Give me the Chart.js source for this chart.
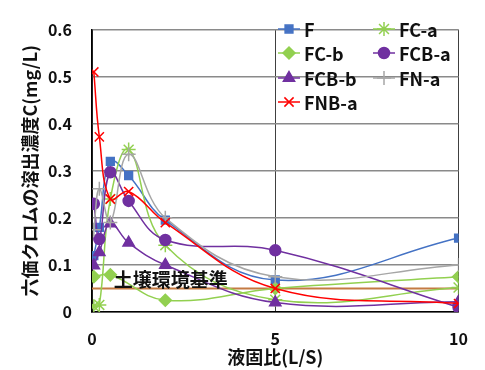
<!DOCTYPE html>
<html>
<head>
<meta charset="utf-8">
<script src="https://cdn.jsdelivr.net/npm/chart.js@4.4.1/dist/chart.umd.min.js"></script>
<style>
  html, body { margin: 0; padding: 0; background: #fff; }
</style>
</head>
<body>
<canvas id="chart" width="485" height="370"></canvas>
<script>
// liquid/solid ratio (x) and leached Cr(VI) concentration (y, mg/L)
const lsRatio = [0.05, 0.2, 0.5, 1, 2, 5, 10];

const valF    = [0.12, 0.18, 0.32, 0.29, 0.195, 0.068, 0.157];
const valFCa  = [0.012, 0.015, 0.24, 0.345, 0.142, 0.026, 0.052];
const valFCb  = [0.075, null, 0.079, null, 0.025, 0.05, 0.075];
const valFCBa = [0.23, 0.155, 0.297, 0.236, 0.153, 0.131, 0.01];
const valFCBb = [0.099, 0.127, 0.188, 0.147, 0.1, 0.02, 0.022];
const valFNa  = [0.175, 0.262, 0.19, 0.335, 0.2, 0.075, 0.1];
const valFNBa = [0.51, 0.372, 0.24, 0.256, 0.19, 0.05, 0.018];

const seriesNames = ["F", "FC-a", "FC-b", "FCB-a", "FCB-b", "FN-a", "FNB-a"];
const seriesValues = [valF, valFCa, valFCb, valFCBa, valFCBb, valFNa, valFNBa];

// soil environmental standard
const standardX = [0, 10];
const standardValue = 0.05;
const standardLabel = "土壌環境基準";

const yTicks = [0, 0.1, 0.2, 0.3, 0.4, 0.5, 0.6];
const xTicks = [0, 5, 10];

const FONT = "'Noto Sans CJK JP', 'Noto Sans', sans-serif";

const styles = [
  { color: "#4472C4", point: "rect",     r: 5.5 },
  { color: "#92D050", point: "star",     r: 7 },
  { color: "#92D050", point: "rectRot",  r: 6 },
  { color: "#7030A0", point: "circle",   r: 5.5 },
  { color: "#7030A0", point: "triangle", r: 6.5 },
  { color: "#A6A6A6", point: "cross",    r: 7 },
  { color: "#FF0000", point: "crossRot", r: 6.5 }
];

const datasets = seriesNames.map((name, i) => ({
  label: name,
  data: lsRatio.map((x, j) => ({ x: x, y: seriesValues[i][j] })),
  borderColor: styles[i].color,
  backgroundColor: styles[i].color,
  borderWidth: 1.5,
  pointStyle: styles[i].point,
  pointRadius: styles[i].r,
  pointBorderWidth: 1.5,
  pointBackgroundColor: styles[i].color,
  pointBorderColor: styles[i].color,
  tension: 0.4,
  spanGaps: true,
  order: seriesNames.length - i
}));

datasets.push({
  label: standardLabel,
  data: standardX.map(x => ({ x: x, y: standardValue })),
  borderColor: "#C47A43",
  borderWidth: 2,
  pointRadius: 0,
  order: 20
});

// legend in two columns inside the plot + label for the standard line
const overlay = {
  id: "overlay",
  afterDraw(chart) {
    const ctx = chart.ctx;
    const xs = chart.scales.x, ys = chart.scales.y;
    ctx.save();
    ctx.fillStyle = "#111";
    ctx.font = "bold 19px " + FONT;
    ctx.textAlign = "center";
    ctx.textBaseline = "middle";
    ctx.fillText(standardLabel, xs.getPixelForValue(2.15), ys.getPixelForValue(standardValue) - 9);

    const colX = [278, 373];
    const rowY = [29, 53, 78, 102];
    ctx.textAlign = "left";
    ctx.font = "bold 18px " + FONT;
    seriesNames.forEach((name, i) => {
      const x = colX[i % 2], y = rowY[Math.floor(i / 2)];
      const s = styles[i];
      ctx.strokeStyle = s.color;
      ctx.lineWidth = 1.5;
      ctx.beginPath();
      ctx.moveTo(x, y);
      ctx.lineTo(x + 22, y);
      ctx.stroke();
      ctx.fillStyle = s.color;
      Chart.helpers.drawPoint(ctx, { pointStyle: s.point, radius: s.r, borderWidth: 1.5 }, x + 11, y);
      ctx.fillStyle = "#111";
      ctx.fillText(name, x + 26, y + 1);
    });
    ctx.restore();
  }
};

new Chart(document.getElementById("chart"), {
  type: "line",
  data: { datasets: datasets },
  options: {
    responsive: false,
    animation: false,
    layout: { padding: { top: 15, right: 25, left: 0, bottom: 0 } },
    plugins: { legend: { display: false }, tooltip: { enabled: false } },
    scales: {
      x: {
        type: "linear",
        min: 0, max: 10,
        afterFit: s => { s.height = 58; },
        afterBuildTicks: s => { s.ticks = xTicks.map(v => ({ value: v })); },
        grid: { color: "#404040", lineWidth: 1, drawTicks: false },
        border: { color: "#000", width: 1.5 },
        ticks: { padding: 17, color: "#111", font: { family: FONT, size: 16, weight: "bold" } },
        title: {
          display: true, text: "液固比(L/S)", color: "#111",
          font: { family: FONT, size: 18, weight: "bold" },
          padding: { top: 0, bottom: 2 }
        }
      },
      y: {
        min: 0, max: 0.6,
        afterFit: s => { s.width = 92; },
        afterBuildTicks: s => { s.ticks = yTicks.map(v => ({ value: v })); },
        grid: { color: "#8a8a8a", lineWidth: 1.5, drawTicks: false },
        border: { color: "#000", width: 1.5 },
        ticks: {
          padding: 20, color: "#111",
          font: { family: FONT, size: 16, weight: "bold" },
          callback: v => v === 0 ? "0" : v.toFixed(1)
        },
        title: {
          display: true, text: "六価クロムの溶出濃度C(mg/L)", color: "#111",
          font: { family: FONT, size: 18, weight: "bold" },
          padding: { top: 19, bottom: 0 }
        }
      }
    }
  },
  plugins: [overlay]
});
</script>
</body>
</html>
